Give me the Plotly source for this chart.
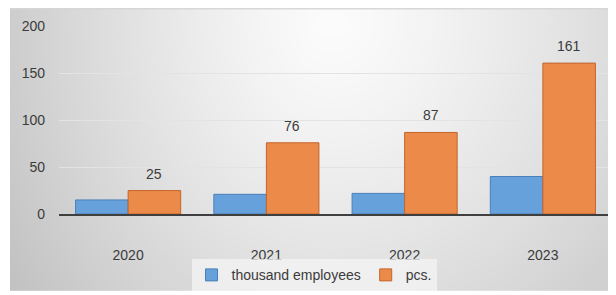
import base64
import struct
import zlib

import numpy as np
import plotly.graph_objects as go

# ---- data ----
years = ["2020", "2021", "2022", "2023"]
thousand_employees = [15, 21, 22, 40]
pcs = [25, 76, 87, 161]
y_ticks = [0, 50, 100, 150, 200]

series_names = ["thousand employees", "pcs."]

# ---- background gradient (styling only) ----
def make_png(arr):
    h, w, _ = arr.shape
    raw = b"".join(b"\x00" + arr[i].tobytes() for i in range(h))

    def chunk(tag, data):
        c = struct.pack(">I", len(data)) + tag + data
        return c + struct.pack(">I", zlib.crc32(tag + data) & 0xFFFFFFFF)

    png = b"\x89PNG\r\n\x1a\n"
    png += chunk(b"IHDR", struct.pack(">IIBBBBB", w, h, 8, 2, 0, 0, 0))
    png += chunk(b"IDAT", zlib.compress(raw, 9))
    png += chunk(b"IEND", b"")
    return "data:image/png;base64," + base64.b64encode(png).decode()


W, H = 303, 144  # half resolution of the 606x288 panel
xs = (np.arange(W) * 2 + 10).astype(float)
ys = (np.arange(H) * 2 + 7).astype(float)
X, Y = np.meshgrid(xs, ys)
cx, cy = 330.0, 20.0
dx = X - cx
rx = np.where(dx < 0, 330.0, 400.0)
r = np.sqrt((dx / rx) ** 2 + ((Y - cy) / 420.0) ** 2)
v = 252 - 48 * r ** 1.25
v = np.clip(v, 194, 252)
v[0, :] = 214
img = np.stack([v, v, v], axis=-1).astype(np.uint8)
bg_src = make_png(img)

# page has an 8px body margin: figure origin sits at page (8, 8)
OFF = 8
FIG_W, FIG_H = 616 - OFF, 295 - OFF
# plot area in page pixels
L, R_EDGE, TOP, ZERO = 59, 612, 26, 217
pw = R_EDGE - L
ph = ZERO - TOP

font_family = "Liberation Sans, Arial, sans-serif"
text_color = "#3b3b3b"

fig = go.Figure()
fig.add_trace(go.Bar(
    x=years, y=thousand_employees, name=series_names[0],
    marker=dict(color="#67A1DB", line=dict(color="#4A7FB8", width=1)),
))
fig.add_trace(go.Bar(
    x=years, y=pcs, name=series_names[1],
    marker=dict(color="#EC8A4A", line=dict(color="#C2652C", width=1)),
))

for i, val in enumerate(pcs):
    fig.add_annotation(
        x=i, y=val, text=str(val), showarrow=False,
        xanchor="center", yanchor="bottom", xshift=26, yshift=7,
        font=dict(family=font_family, size=14, color=text_color),
    )

fig.add_layout_image(dict(
    source=bg_src, xref="paper", yref="paper",
    x=(10 - L) / pw, y=(ZERO - 7) / ph,
    sizex=606 / pw, sizey=288 / ph,
    sizing="stretch", xanchor="left", yanchor="top",
    layer="below",
))

fig.update_layout(
    width=FIG_W, height=FIG_H,
    margin=dict(l=L - OFF, r=616 - R_EDGE, t=TOP - OFF, b=295 - ZERO),
    paper_bgcolor="white",
    plot_bgcolor="rgba(0,0,0,0)",
    barmode="group",
    bargap=0.24,
    bargroupgap=0,
    font=dict(family=font_family, size=14, color=text_color),
    showlegend=True,
    legend=dict(
        orientation="h",
        x=(314 - L) / pw, xanchor="center",
        y=(ZERO - 263) / ph, yanchor="top",
        bgcolor="rgba(244,244,244,0.75)",
        font=dict(family=font_family, size=14, color=text_color),
        itemwidth=30,
        traceorder="normal",
    ),
    xaxis=dict(
        type="category",
        range=[-0.5, len(years) - 0.5],
        showline=True, linecolor="#3f3f3f", linewidth=2,
        showgrid=False, ticks="", ticklabelstandoff=27,
        tickfont=dict(size=14, color=text_color),
    ),
    yaxis=dict(
        range=[0, 200.6], tickvals=y_ticks,
        showgrid=True, gridcolor="#e3e3e3", gridwidth=1,
        zeroline=False, showline=False, ticks="",
        ticklabelstandoff=13,
        tickfont=dict(size=14, color=text_color),
    ),
)

fig.write_html("out.html")
